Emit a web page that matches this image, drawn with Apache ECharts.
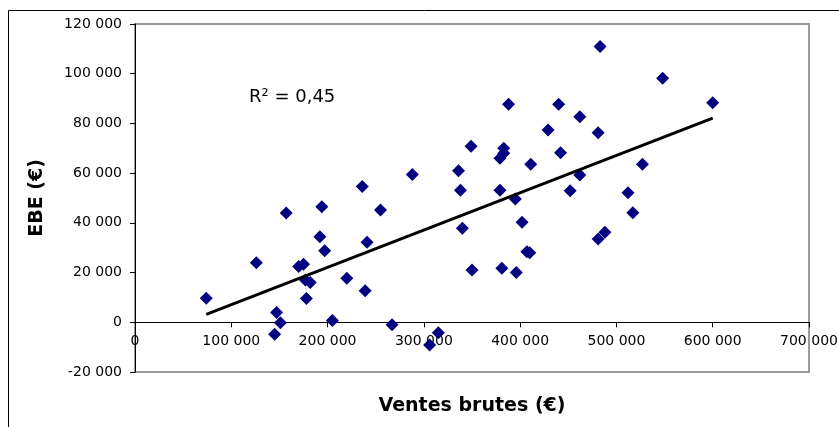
<!DOCTYPE html>
<html>
<head>
<meta charset="utf-8">
<script src="https://cdn.jsdelivr.net/npm/echarts@6/dist/echarts.min.js"></script>
<style>
html,body{margin:0;padding:0;background:#fff;}
#c{width:839px;height:427px;}
</style>
</head>
<body>
<div id="c"></div>
<script>
// Ventes brutes (€)
const ventes = [74000,126000,157000,147000,151000,145000,170000,175000,177000,182000,
  178000,192000,197000,194000,205000,220000,239000,241000,236000,255000,
  267000,288000,306000,315000,336000,338000,349000,340000,350000,379000,
  383000,383000,388000,379000,395000,381000,396000,402000,407000,410000,
  411000,429000,440000,462000,442000,481000,483000,462000,452000,527000,
  512000,517000,481000,488000,548000,600000];
// EBE (€)
const ebe = [9700,24000,44000,3900,-200,-4800,22400,23300,17000,16000,
  9600,34400,28800,46500,700,17700,12700,32200,54600,45200,
  -1000,59500,-9100,-4200,61000,53100,70800,37800,21000,66000,
  70000,68000,87700,53100,49600,21700,20000,40200,28400,28000,
  63600,77400,87700,82700,68200,76300,110900,59300,52900,63600,
  52100,44100,33500,36200,98200,88300];
// Trend line end points
const trendX = [74000, 600000];
const trendY = [3200, 82100];
const r2Text = 'R² = 0,45';
const xTitle = 'Ventes brutes (€)';
const yTitle = 'EBE (€)';

const FONT = 'DejaVu Sans';
const fmt = v => {
  const s = Math.abs(v).toString().replace(/\B(?=(\d{3})+(?!\d))/g, ' ');
  return (v < 0 ? '-' : '') + s;
};

const GRID_TOP = 24, GRID_BOTTOM = 55, H = 427;
const yMin = -20000, yMax = 120000;
const plotH = H - GRID_TOP - GRID_BOTTOM;
// distance (px) from bottom edge of plot to the y=0 level
const zeroOffset = plotH * (0 - yMin) / (yMax - yMin);

const chart = echarts.init(document.getElementById('c'));
chart.setOption({
  animation: false,
  backgroundColor: '#fff',
  title: {
    text: r2Text,
    left: 244, top: 83,
    textStyle: {fontFamily: FONT, fontSize: 18, fontWeight: 'normal', color: '#000'}
  },
  graphic: [{
    type: 'rect', silent: true, z: -10,
    shape: {x: 8.5, y: 10.5, width: 860, height: 440},
    style: {fill: 'none', stroke: '#000', lineWidth: 1}
  }],
  grid: {
    left: 135, right: 30, top: GRID_TOP, bottom: GRID_BOTTOM,
    outerBoundsMode: 'none', containLabel: false,
    show: true, borderColor: '#9a9a9a', borderWidth: 2, backgroundColor: '#fff'
  },
  xAxis: {
    type: 'value', min: 0, max: 700000, interval: 100000,
    position: 'bottom', offset: -zeroOffset,
    name: xTitle, nameLocation: 'middle', nameGap: 74,
    nameTextStyle: {fontFamily: FONT, fontSize: 19, fontWeight: 'bold', color: '#000'},
    axisLine: {onZero: false, lineStyle: {color: '#000', width: 1}},
    axisTick: {show: true, inside: false, length: 5, lineStyle: {color: '#000'}},
    axisLabel: {fontFamily: FONT, fontSize: 14, color: '#000', margin: 12, formatter: fmt},
    splitLine: {show: false}
  },
  yAxis: {
    type: 'value', min: yMin, max: yMax, interval: 20000,
    name: yTitle, nameLocation: 'middle', nameGap: 88, nameRotate: 90,
    nameTextStyle: {fontFamily: FONT, fontSize: 19, fontWeight: 'bold', color: '#000'},
    axisLine: {show: true, onZero: false, lineStyle: {color: '#000', width: 1}},
    axisTick: {show: true, length: 5, lineStyle: {color: '#000'}},
    axisLabel: {fontFamily: FONT, fontSize: 14, color: '#000', margin: 13, formatter: fmt},
    splitLine: {show: false}
  },
  series: [{
    type: 'scatter',
    symbol: 'diamond', symbolSize: 13,
    itemStyle: {color: '#000080', opacity: 1},
    data: ventes.map((v, i) => [v, ebe[i]]),
    z: 2
  }, {
    type: 'line',
    data: trendX.map((v, i) => [v, trendY[i]]),
    symbol: 'none',
    lineStyle: {color: '#000', width: 3},
    z: 3
  }]
});
</script>
</body>
</html>
